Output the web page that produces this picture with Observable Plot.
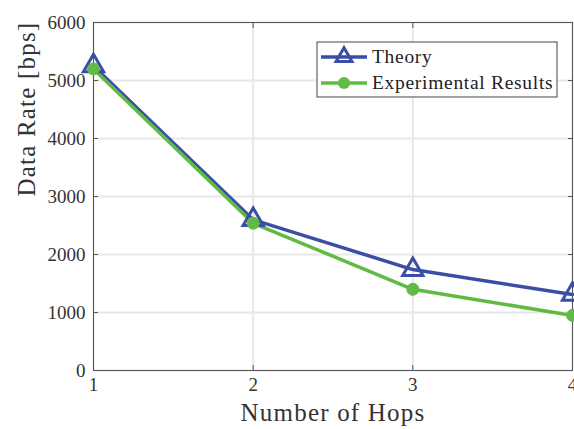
<!DOCTYPE html>
<html>
<head>
<meta charset="utf-8">
<script src="https://cdn.jsdelivr.net/npm/d3@7"></script>
<script src="https://cdn.jsdelivr.net/npm/@observablehq/plot@0.6"></script>
<style>
  html, body { margin: 0; padding: 0; background: #fff; }
  #chart svg { font-family: "Liberation Serif", "DejaVu Serif", serif; background: #fff; }
</style>
</head>
<body>
<div id="chart"></div>
<script>
const hops = [1, 2, 3, 4];
const theory = [5250, 2600, 1740, 1310];
const experimental = [5200, 2540, 1400, 950];
const xTicks = [1, 2, 3, 4];
const yTicks = [0, 1000, 2000, 3000, 4000, 5000, 6000];
const seriesNames = ["Theory", "Experimental Results"];
const colors = ["#3a4ea3", "#5fbb43"];

const data = [];
hops.forEach((h, i) => {
  data.push({hops: h, rate: theory[i], series: seriesNames[0]});
  data.push({hops: h, rate: experimental[i], series: seriesNames[1]});
});
const th = data.filter(d => d.series === seriesNames[0]);
const ex = data.filter(d => d.series === seriesNames[1]);

const font = "Liberation Serif, DejaVu Serif, serif";

const chart = Plot.plot({
  width: 574,
  height: 429,
  marginLeft: 93,
  marginRight: 2,
  marginTop: 22,
  marginBottom: 59,
  style: {fontFamily: font, background: "#fff", color: "#333"},
  x: {domain: [1, 4], ticks: xTicks},
  y: {domain: [0, 6000], ticks: yTicks},
  marks: [
    Plot.gridX(xTicks, {stroke: "#e8e8e8", strokeOpacity: 1, strokeWidth: 2}),
    Plot.gridY(yTicks, {stroke: "#e8e8e8", strokeOpacity: 1, strokeWidth: 2}),
    Plot.frame({stroke: "#555", strokeWidth: 1}),
    Plot.axisX(xTicks, {tickSize: -5, tickPadding: 12, fontSize: 19, label: null, stroke: "#555", tickFormat: d => String(d)}),
    Plot.axisY(yTicks, {tickSize: -5, tickPadding: 13, fontSize: 19, label: null, stroke: "#555", tickFormat: d => String(d)}),
    Plot.axisY(yTicks, {anchor: "right", tickSize: -5, tickFormat: () => "", label: null, stroke: "#555"}),
    Plot.axisX(xTicks, {anchor: "top", tickSize: -5, tickFormat: () => "", label: null, stroke: "#555"}),
    Plot.text(["Number of Hops"], {frameAnchor: "bottom", dy: 50, fontSize: 25, fill: "#333", text: d => d}),
    Plot.text(["Data Rate [bps]"], {frameAnchor: "left", dx: -67, rotate: -90, fontSize: 25, fill: "#333", text: d => d}),
    Plot.line(th, {x: "hops", y: "rate", stroke: colors[0], strokeWidth: 3.5}),
    Plot.line(ex, {x: "hops", y: "rate", stroke: colors[1], strokeWidth: 3.5}),
    Plot.dot(th, {x: "hops", y: "rate", symbol: "triangle", r: 7.5, stroke: colors[0], strokeWidth: 3, fill: "none"}),
    Plot.dot(ex, {x: "hops", y: "rate", symbol: "circle", r: 6, fill: colors[1], stroke: colors[1], strokeWidth: 1})
  ]
});
document.getElementById("chart").appendChild(chart);

// letter spacing for axis titles
d3.select(chart).selectAll("text").filter(function() {
  const t = this.textContent;
  return t === "Number of Hops" || t === "Data Rate [bps]";
}).attr("letter-spacing", "1.2px");

// Legend drawn inside the SVG
const svg = d3.select(chart);
const lg = svg.append("g").attr("transform", "translate(317,42)");
lg.append("rect").attr("width", 240).attr("height", 55).attr("fill", "#fff").attr("stroke", "#444").attr("stroke-width", 1);
seriesNames.forEach((name, i) => {
  const y = 15 + i * 26;
  lg.append("line").attr("x1", 4).attr("x2", 50).attr("y1", y).attr("y2", y).attr("stroke", colors[i]).attr("stroke-width", 3.5);
  if (i === 0) {
    lg.append("path").attr("d", d3.symbol(d3.symbolTriangle, 110)()).attr("transform", `translate(27,${y})`).attr("fill", "none").attr("stroke", colors[0]).attr("stroke-width", 3);
  } else {
    lg.append("circle").attr("cx", 27).attr("cy", y).attr("r", 6).attr("fill", colors[1]);
  }
  lg.append("text").attr("x", 55).attr("y", y + 6).attr("text-anchor", "start")
    .attr("font-size", 19.5).attr("letter-spacing", "0.7px").attr("fill", "#222").attr("font-family", font).text(name);
});
</script>
</body>
</html>
